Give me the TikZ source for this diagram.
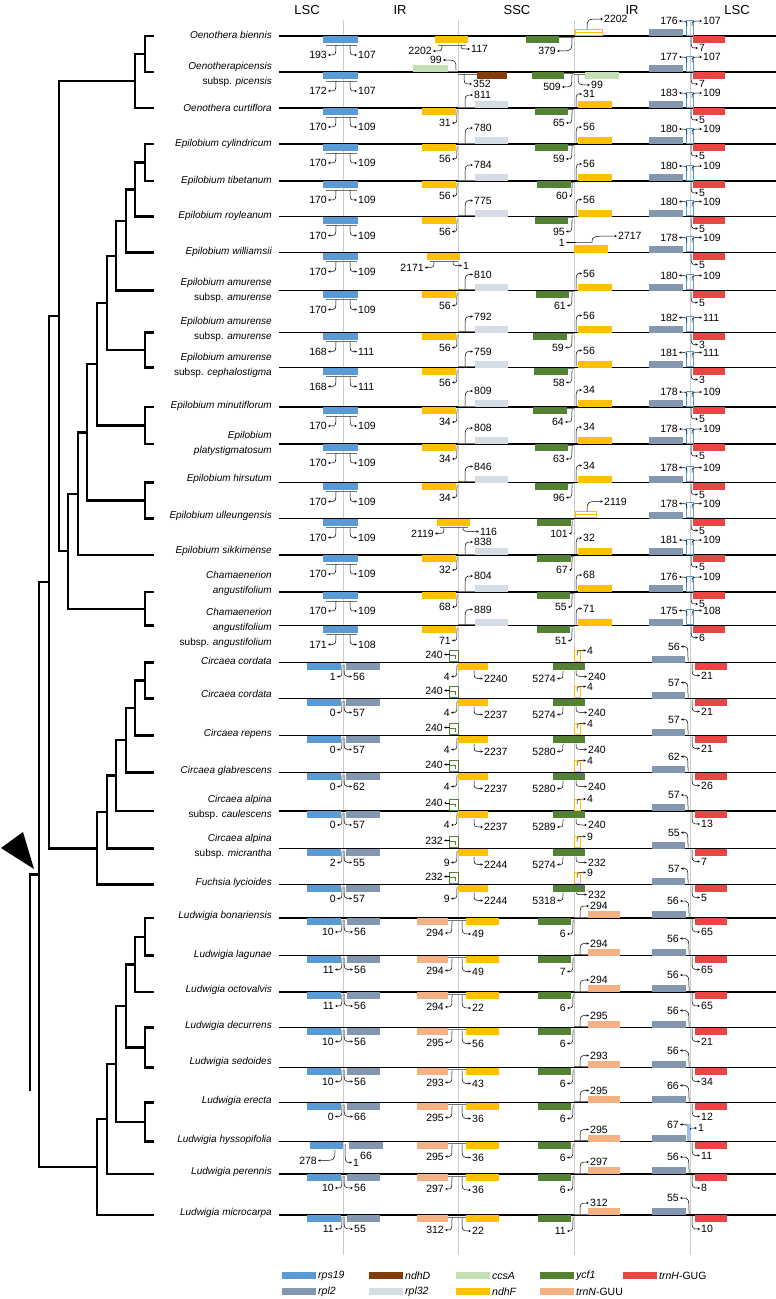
\documentclass[tikz,border=0pt]{standalone}
\usepackage{fontspec}
\setmainfont{Liberation Sans}
\usetikzlibrary{arrows.meta}

\definecolor{crps}{RGB}{91,155,213}
\definecolor{crpl}{RGB}{132,151,176}
\definecolor{cndhd}{RGB}{132,60,12}
\definecolor{crplb}{RGB}{214,220,229}
\definecolor{cccsa}{RGB}{197,224,180}
\definecolor{cndhf}{RGB}{255,192,0}
\definecolor{cycf}{RGB}{84,130,53}
\definecolor{ctrnn}{RGB}{244,177,131}
\definecolor{ctrnh}{RGB}{232,69,69}

\tikzset{
  num/.style={font=\fontsize{10.5}{10.5}\selectfont, inner sep=1pt},
  spname/.style={font=\fontsize{10}{15}\selectfont\itshape, align=right, anchor=east, inner sep=0pt},
  hd/.style={font=\fontsize{13}{13}\selectfont},
  tick/.style={line width=0.5pt, -{Stealth[length=2.6pt,width=2.4pt]}},
  brk/.style={line width=0.5pt, black!55},
  gline/.style={line width=1.5pt},
  jn/.style={line width=0.5pt, black!20},
  tree/.style={line width=2.4pt, line cap=rect},
  outl/.style={line width=0.6pt}
}

% number with an arrow from (#1,#2), label right edge at (#3,#4)
\newcommand{\labL}[5]{\node[num,anchor=east] (lb) at (#3,#4) {#5};
  \draw[tick] (#1,#2) .. controls (#1,#4) .. (lb.east);}
% number with an arrow from (#1,#2), label left edge at (#3,#4)
\newcommand{\labR}[5]{\node[num,anchor=west] (lb) at (#3,#4) {#5};
  \draw[tick] (#1,#2) .. controls (#1,#4) .. (lb.west);}
% tree bracket: node x, child a (y,x), child b (y,x)
\newcommand{\clade}[5]{\draw[tree] (#3,#2) -- (#1,#2) -- (#1,#4) -- (#5,#4);}

\begin{document}
\begin{tikzpicture}[x=1pt,y=-1pt]
\useasboundingbox (0,0) rectangle (776,1299);

% junctions
\foreach \x in {343,458,574,690}
  \draw[jn] (\x,20) -- (\x,1255);

% headers
\node[hd] (hlsca) at (307,10) {LSC};
\node[hd] (hirb) at (400,10) {IR};
\node[hd] (hssc) at (517,10) {SSC};
\node[hd] (hira) at (632,10) {IR};
\node[hd] (hlscb) at (737,10) {LSC};

% species
\foreach \y/\t [count=\i] in {35/{Oenothera biennis}, 74.5/{Oenotherapicensis\\{\upshape subsp.} picensis},
  108/{Oenothera curtiflora}, 144/{Epilobium cylindricum}, 181/{Epilobium tibetanum},
  215.5/{Epilobium royleanum}, 251.5/{Epilobium williamsii},
  290/{Epilobium amurense\\{\upshape subsp.} amurense}, 329/{Epilobium amurense\\{\upshape subsp.} amurense},
  365/{Epilobium amurense\\{\upshape subsp.} cephalostigma}, 406/{Epilobium minutiflorum},
  443/{Epilobium\\platystigmatosum}, 479/{Epilobium hirsutum}, 516/{Epilobium ulleungensis},
  551/{Epilobium sikkimense}, 583/{Chamaenerion\\angustifolium},
  628/{Chamaenerion\\angustifolium\\{\upshape subsp.} angustifolium},
  661/{Circaea cordata}, 694/{Circaea cordata}, 734/{Circaea repens}, 771/{Circaea glabrescens},
  807/{Circaea alpina\\{\upshape subsp.} caulescens}, 846/{Circaea alpina\\{\upshape subsp.} micrantha},
  883/{Fuchsia lycioides}, 916/{Ludwigia bonariensis}, 955/{Ludwigia lagunae},
  990/{Ludwigia octovalvis}, 1026/{Ludwigia decurrens}, 1062/{Ludwigia sedoides},
  1101/{Ludwigia erecta}, 1140/{Ludwigia hyssopifolia}, 1172/{Ludwigia perennis},
  1213/{Ludwigia microcarpa}}
  \node[spname] (sp\i) at (272,\y) {\t};

\foreach \y in {36,72,108,144,181,216.5,252.5,290.5,332.5,367.5,407,444,482.5,518.5,555,592,625.5,
  662.5,698.5,735.5,772.5,811,848.5,884.5,918,955.5,992,1027.5,1067.5,1102.5,1141.5,1174,1215}
  \draw[gline] (279,\y) -- (776,\y);

% tree
% Oenothera
\clade{145}{36}{153}{72}{153}
\clade{135}{54}{145}{108}{153}
% Epilobium, Chamaenerion
\clade{145}{144}{153}{181}{153}
\clade{135}{162.5}{145}{216.5}{153}
\clade{126}{189.5}{135}{252.5}{153}
\clade{116}{221}{126}{290.5}{153}
\clade{145}{332.5}{153}{367.5}{153}
\clade{107}{255.75}{116}{350}{145}
\clade{145}{407}{153}{444}{153}
\clade{97}{302.9}{107}{425.5}{145}
\clade{145}{482.5}{153}{518.5}{153}
\clade{87}{364.2}{97}{500.5}{145}
\clade{78}{432.3}{87}{555}{153}
\clade{145}{592}{153}{625.5}{153}
\clade{68}{493.7}{78}{608.75}{145}
\clade{59}{81}{135}{551.2}{68}
% Circaea, Fuchsia
\clade{145}{662.5}{153}{698.5}{153}
\clade{135}{680.5}{145}{735.5}{153}
\clade{126}{708}{135}{772.5}{153}
\clade{116}{740.25}{126}{811}{153}
\clade{107}{775.6}{116}{848.5}{153}
\clade{97}{812}{107}{884.5}{153}
\clade{49}{316.1}{59}{848.3}{97}
% Ludwigia
\clade{145}{918}{153}{955.5}{153}
\clade{135}{936.75}{145}{992}{153}
\clade{145}{1027.5}{153}{1067.5}{153}
\clade{126}{964.4}{135}{1047.5}{145}
\clade{145}{1102.5}{153}{1141.5}{153}
\clade{116}{1006}{126}{1122}{145}
\clade{107}{1064}{116}{1174}{153}
\clade{97}{1119}{107}{1215}{153}
\clade{39}{582.2}{49}{1167}{97}
\draw[tree] (39,874.6) -- (30,874.6) -- (30,1090);
\fill (1,848) -- (23,832) -- (34,869) -- cycle;

% rps19 across JLB
\foreach \y/\vl/\vr in {36/193/107, 72/172/107, 108/170/109, 144/170/109, 181/170/109, 216.5/170/109,
  252.5/170/109, 290.5/170/109, 332.5/168/111, 367.5/168/111, 407/170/109, 444/170/109,
  482.5/170/109, 518.5/170/109, 555/170/109, 592/170/109, 625.5/171/108}{
  \fill[crps] (323,\y) rectangle (358,\y+7);
  \draw[brk] (326,\y+9) -- (357,\y+9);
  \labL{336}{\y+9}{328}{\y+19}{\vl}
  \labR{350}{\y+9}{357}{\y+19}{\vr}
}

% JLA: rpl2, rps19 part, trnH
\foreach \y/\vh/\vl/\vr in {36/7/176/107, 72/7/177/107, 108/5/183/109, 144/5/180/109, 181/5/180/109,
  216.5/5/180/109, 252.5/5/178/109, 290.5/5/180/109, 332.5/3/182/111, 367.5/3/181/111,
  407/5/178/109, 444/5/178/109, 482.5/5/178/109, 518.5/5/178/109, 555/5/181/109,
  592/5/176/109, 625.5/6/175/108}{
  \fill[crpl] (649,\y-7) rectangle (683,\y);
  \draw[crps,outl] (686,\y-16) rectangle (693,\y-1);
  \labL{687}{\y-10}{679}{\y-15}{\vl}
  \labR{692}{\y-10}{702}{\y-15}{\vr}
  \fill[ctrnh] (693,\y) rectangle (725,\y+7);
  \labR{691}{\y+1}{698}{\y+12}{\vh}
}

% ndhF at JSB and in IRa
\foreach \y/\vn/\vo in {108/31/14, 144/56/17, 181/56/17, 216.5/56/17, 290.5/56/17, 332.5/56/17,
  367.5/56/17, 407/34/17, 444/34/17, 482.5/34/17, 555/32/17, 592/68/17, 625.5/71/17}{
  \fill[cndhf] (422,\y) rectangle (456,\y+7);
  \labL{457}{\y+2}{452}{\y+15}{\vn}
  \fill[cndhf] (578,\y-7) rectangle (612,\y);
  \labR{576}{\y-1}{582}{\y-\vo}{\vn}
}

% rpl32
\foreach \y/\vn/\vo in {108/811/13, 144/780/16, 181/784/16, 216.5/775/16, 290.5/810/16, 332.5/792/16,
  367.5/759/16, 407/809/16, 444/808/16, 482.5/846/16, 555/838/13, 592/804/16, 625.5/889/16}{
  \fill[crplb] (475,\y-7) rectangle (508,\y);
  \draw[brk] (458,\y-1) -- (475,\y-1);
  \labR{465}{\y-1}{473}{\y-\vo}{\vn}
}

% ycf1
\foreach \y/\vs/\ve/\vn in {36/526/559/379, 72/532/564/509, 108/535/568/65, 144/535/568/59,
  181/537/571/60, 216.5/535/568/95, 290.5/536/569/61, 332.5/533/567/59, 367.5/534/568/58,
  407/533/567/64, 444/535/568/63, 482.5/535/568/96, 518.5/537/571/101, 555/537/571/67,
  592/537/570/55, 625.5/537/570/51}{
  \fill[cycf] (\vs,\y) rectangle (\ve,\y+7);
  \draw[brk] (\ve,\y+1) -- (574,\y+1);
  \labL{572}{\y+2}{\ve-2}{\y+15}{\vn}
}

% ndhF across JSB
\foreach \y/\vs/\ve/\vl/\vr/\vo in {36/435/468/2202/117/2, 252.5/427/460/2171/1/2, 518.5/437/470/2119/116/9}{
  \fill[cndhf] (\vs,\y) rectangle (\ve,\y+7);
  \draw[brk] (\vs+3,\y+9) -- (\ve-2,\y+9);
  \labL{\vs+7}{\y+9}{\vs-2}{\y+15}{\vl}
  \labR{\ve-7}{\y+9}{\ve+\vo}{\y+13}{\vr}
}
% ndhF fragments in IRa
\foreach \y/\ve/\vn in {36/602/2202, 518.5/596/2119}{
  \draw[cndhf,outl] (575,\y-7) rectangle (\ve,\y-1);
  \draw[cndhf,outl] (575,\y-4) -- (\ve,\y-4);
  \labR{587}{\y-7}{603}{\y-17}{\vn}
}

% Oenothera picensis
\fill[cccsa] (413,65) rectangle (448,72);
\draw[brk] (448,71) -- (458,71);
\labL{456}{70}{443}{60}{99}
\fill[cndhd] (477,72) rectangle (507,79);
\draw[brk] (458,74) -- (477,74);
\labR{464}{74}{472}{84}{352}
\fill[cccsa] (585,72) rectangle (619,79);
\draw[brk] (574,74) -- (585,74);
\labR{578}{75}{590}{85}{99}

% Epilobium williamsii
\fill[cndhf] (574,244.5) rectangle (608,252.5);
\draw[brk] (574,242.5) -- (592,242.5);
\labL{576}{242.5}{566}{242.5}{1}
\labR{592}{242.5}{617}{236}{2717}

% Circaea and Fuchsia
\foreach \y/\va/\vb/\vr/\vj/\vs/\vc/\vh/\vq in {662.5/240/4/56/1/2240/5274/21/14, 698.5/240/4/57/0/2237/5274/21/14,
  735.5/240/4/57/0/2237/5280/21/14, 772.5/240/4/62/0/2237/5280/26/14, 811/240/4/57/0/2237/5289/13/14,
  848.5/232/9/55/2/2244/5274/7/14, 884.5/232/9/57/0/2244/5318/5/10}{
  \fill[crps] (307,\y) rectangle (341,\y+7);
  \fill[crpl] (346,\y) rectangle (380,\y+7);
  \labL{342}{\y+2}{337}{\y+14}{\vj}
  \labR{344}{\y+2}{352}{\y+14}{\vr}
  \draw[cycf,outl] (449,\y-12) rectangle (458,\y-1);
  \draw[cycf,outl] (450,\y-7) -- (455,\y-7) -- (455,\y-4);
  \labL{449}{\y-8}{444}{\y-8}{\va}
  \fill[cndhf] (458,\y) rectangle (488,\y+7);
  \labL{457}{\y+2}{451}{\y+14}{\vb}
  \labR{474}{\y+8}{483}{\y+16}{\vs}
  \draw[cndhf,outl] (574,\y-12) rectangle (580,\y-1);
  \labR{577}{\y-7}{586}{\y-12}{\vb}
  \fill[cycf] (553,\y) rectangle (585,\y+7);
  \labL{563}{\y+8}{557}{\y+16}{\vc}
  \labR{576}{\y+8}{587}{\y+\vq}{\va}
  \fill[crpl] (652,\y-7) rectangle (685,\y);
  \labL{688}{\y-1}{681}{\y-16}{\vr}
  \fill[ctrnh] (695,\y) rectangle (727,\y+7);
  \labR{692}{\y+1}{700}{\y+13}{\vh}
}

% Ludwigia
\foreach \y/\vt/\vp/\vn/\vy/\vh in {918/294/56/49/6/65, 955.5/294/56/49/7/65, 992/294/56/22/6/65,
  1027.5/295/56/56/6/21, 1067.5/293/56/43/6/34, 1102.5/295/66/36/6/12, 1141.5/295/67/36/6/11,
  1174/297/56/36/6/8, 1215/312/55/22/11/10}{
  \fill[ctrnn] (417,\y) rectangle (448,\y+7);
  \draw[brk] (448,\y+2) -- (467,\y+2);
  \labL{452}{\y+3}{445}{\y+15}{\vt}
  \fill[cndhf] (466,\y) rectangle (499,\y+7);
  \labR{462}{\y+3}{471}{\y+16}{\vn}
  \fill[cycf] (538,\y) rectangle (571,\y+7);
  \labL{573}{\y+2}{567}{\y+16}{\vy}
  \fill[ctrnh] (695,\y) rectangle (727,\y+7);
  \labR{692}{\y+1}{700}{\y+14}{\vh}
  \fill[ctrnn] (588,\y-7) rectangle (620,\y);
  \draw[brk] (574,\y-1) -- (588,\y-1);
  \labR{580}{\y-1}{589}{\y-12}{\vt}
  \fill[crpl] (652,\y-7) rectangle (686,\y);
  \labL{689}{\y-1}{680}{\y-17}{\vp}
}
\foreach \y/\vl/\vr in {918/10/56, 955.5/11/56, 992/11/56, 1027.5/10/56, 1067.5/10/56,
  1102.5/0/66, 1174/10/56, 1215/11/55}{
  \fill[crps] (307,\y) rectangle (341,\y+7);
  \fill[crpl] (347,\y) rectangle (380,\y+7);
  \labL{342}{\y+2}{335}{\y+14}{\vl}
  \labR{344}{\y+2}{353}{\y+14}{\vr}
}
% Ludwigia hyssopifolia
\fill[crps] (310,1141.5) rectangle (343,1148.5);
\fill[crpl] (349,1141.5) rectangle (383,1148.5);
\labL{335}{1150}{318}{1160.5}{278}
\labR{345}{1144}{352}{1162.5}{1}
\node[num,anchor=west] (hy66) at (359,1155.5) {66};
\fill[crps!60] (687,1124) rectangle (691,1140.5);
\labR{690}{1130}{697}{1128}{1}

% legend
\foreach \x/\y/\vc/\t [count=\i] in {282/1272/crps/{\itshape rps19}, 369/1272/cndhd/{\itshape ndhD},
  456/1272/cccsa/{\itshape ccsA}, 540/1272/cycf/{\itshape ycf1}, 623/1272/ctrnh/{{\itshape trnH}-GUG},
  282/1288/crpl/{\itshape rpl2}, 369/1288/crplb/{\itshape rpl32}, 456/1288/cndhf/{\itshape ndhF},
  540/1288/ctrnn/{{\itshape trnN}-GUU}}{
  \fill[\vc] (\x,\y) rectangle (\x+34,\y+7);
  \node[num,anchor=west] (lg\i) at (\x+35,\y+3.5) {\t};
}
\end{tikzpicture}
\end{document}
